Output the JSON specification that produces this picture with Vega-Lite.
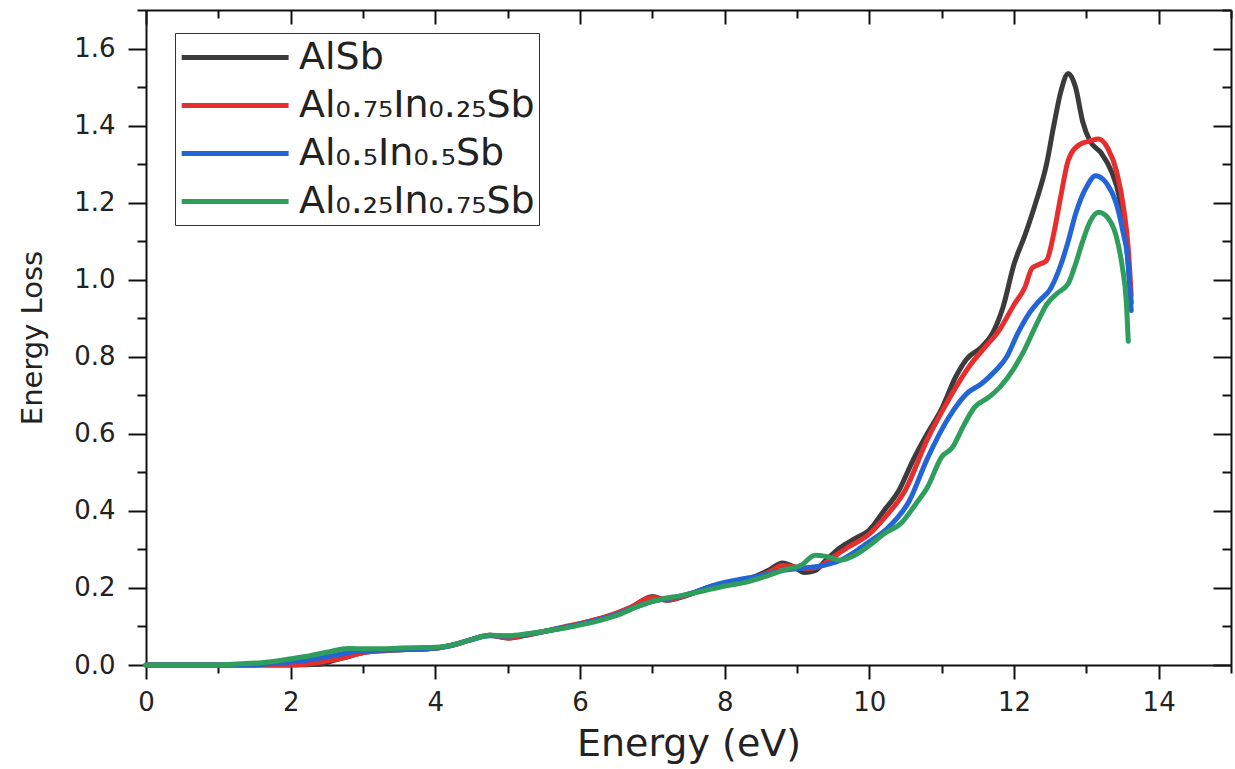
{
  "$schema": "https://vega.github.io/schema/vega-lite/v6.json",
  "autosize": "none",
  "width": 1085,
  "height": 655,
  "padding": {"left": 146, "top": 10, "right": 4, "bottom": 104},
  "background": "white",
  "config": {
    "view": {"stroke": null},
    "font": "DejaVu Sans",
    "axis": {
      "grid": false,
      "domainColor": "#111",
      "domainWidth": 2,
      "tickColor": "#111",
      "tickWidth": 2,
      "labelFont": "DejaVu Sans",
      "labelFontSize": 26,
      "labelColor": "#222",
      "titleFont": "DejaVu Sans",
      "titleFontWeight": "normal",
      "titleColor": "#222"
    }
  },
  "data": {"values": [
    {"s":"AlSb","x":0,"y":0},{"s":"AlSb","x":1,"y":0},{"s":"AlSb","x":2,"y":0},{"s":"AlSb","x":2.4,"y":0.002},{"s":"AlSb","x":2.6,"y":0.012},{"s":"AlSb","x":2.8,"y":0.022},{"s":"AlSb","x":3.0,"y":0.032},{"s":"AlSb","x":3.3,"y":0.038},{"s":"AlSb","x":3.6,"y":0.04},{"s":"AlSb","x":3.9,"y":0.042},{"s":"AlSb","x":4.2,"y":0.05},{"s":"AlSb","x":4.5,"y":0.066},{"s":"AlSb","x":4.75,"y":0.077},{"s":"AlSb","x":5.0,"y":0.07},{"s":"AlSb","x":5.2,"y":0.075},{"s":"AlSb","x":5.5,"y":0.087},{"s":"AlSb","x":5.8,"y":0.098},{"s":"AlSb","x":6.1,"y":0.112},{"s":"AlSb","x":6.4,"y":0.126},{"s":"AlSb","x":6.7,"y":0.148},{"s":"AlSb","x":7.0,"y":0.178},{"s":"AlSb","x":7.2,"y":0.168},{"s":"AlSb","x":7.5,"y":0.182},{"s":"AlSb","x":7.8,"y":0.203},{"s":"AlSb","x":8.1,"y":0.21},{"s":"AlSb","x":8.4,"y":0.228},{"s":"AlSb","x":8.6,"y":0.245},{"s":"AlSb","x":8.8,"y":0.265},{"s":"AlSb","x":8.95,"y":0.255},{"s":"AlSb","x":9.1,"y":0.24},{"s":"AlSb","x":9.25,"y":0.245},{"s":"AlSb","x":9.4,"y":0.272},{"s":"AlSb","x":9.6,"y":0.305},{"s":"AlSb","x":9.8,"y":0.328},{"s":"AlSb","x":10.0,"y":0.35},{"s":"AlSb","x":10.2,"y":0.4},{"s":"AlSb","x":10.4,"y":0.45},{"s":"AlSb","x":10.6,"y":0.53},{"s":"AlSb","x":10.8,"y":0.6},{"s":"AlSb","x":11.0,"y":0.665},{"s":"AlSb","x":11.2,"y":0.75},{"s":"AlSb","x":11.35,"y":0.795},{"s":"AlSb","x":11.55,"y":0.825},{"s":"AlSb","x":11.7,"y":0.86},{"s":"AlSb","x":11.85,"y":0.93},{"s":"AlSb","x":12.0,"y":1.04},{"s":"AlSb","x":12.15,"y":1.115},{"s":"AlSb","x":12.3,"y":1.2},{"s":"AlSb","x":12.45,"y":1.3},{"s":"AlSb","x":12.55,"y":1.4},{"s":"AlSb","x":12.65,"y":1.49},{"s":"AlSb","x":12.75,"y":1.535},{"s":"AlSb","x":12.85,"y":1.5},{"s":"AlSb","x":12.95,"y":1.41},{"s":"AlSb","x":13.05,"y":1.36},{"s":"AlSb","x":13.2,"y":1.33},{"s":"AlSb","x":13.35,"y":1.28},{"s":"AlSb","x":13.45,"y":1.22},{"s":"AlSb","x":13.55,"y":1.1},{"s":"AlSb","x":13.62,"y":0.94},

    {"s":"Al₀.₇₅In₀.₂₅Sb","x":0,"y":0},{"s":"Al₀.₇₅In₀.₂₅Sb","x":1,"y":0},{"s":"Al₀.₇₅In₀.₂₅Sb","x":2,"y":0},{"s":"Al₀.₇₅In₀.₂₅Sb","x":2.2,"y":0.002},{"s":"Al₀.₇₅In₀.₂₅Sb","x":2.5,"y":0.01},{"s":"Al₀.₇₅In₀.₂₅Sb","x":2.8,"y":0.022},{"s":"Al₀.₇₅In₀.₂₅Sb","x":3.0,"y":0.032},{"s":"Al₀.₇₅In₀.₂₅Sb","x":3.3,"y":0.037},{"s":"Al₀.₇₅In₀.₂₅Sb","x":3.6,"y":0.04},{"s":"Al₀.₇₅In₀.₂₅Sb","x":3.9,"y":0.042},{"s":"Al₀.₇₅In₀.₂₅Sb","x":4.2,"y":0.05},{"s":"Al₀.₇₅In₀.₂₅Sb","x":4.5,"y":0.066},{"s":"Al₀.₇₅In₀.₂₅Sb","x":4.75,"y":0.077},{"s":"Al₀.₇₅In₀.₂₅Sb","x":5.0,"y":0.07},{"s":"Al₀.₇₅In₀.₂₅Sb","x":5.2,"y":0.076},{"s":"Al₀.₇₅In₀.₂₅Sb","x":5.5,"y":0.087},{"s":"Al₀.₇₅In₀.₂₅Sb","x":5.8,"y":0.1},{"s":"Al₀.₇₅In₀.₂₅Sb","x":6.1,"y":0.112},{"s":"Al₀.₇₅In₀.₂₅Sb","x":6.4,"y":0.128},{"s":"Al₀.₇₅In₀.₂₅Sb","x":6.7,"y":0.15},{"s":"Al₀.₇₅In₀.₂₅Sb","x":7.0,"y":0.176},{"s":"Al₀.₇₅In₀.₂₅Sb","x":7.2,"y":0.168},{"s":"Al₀.₇₅In₀.₂₅Sb","x":7.5,"y":0.183},{"s":"Al₀.₇₅In₀.₂₅Sb","x":7.8,"y":0.2},{"s":"Al₀.₇₅In₀.₂₅Sb","x":8.1,"y":0.21},{"s":"Al₀.₇₅In₀.₂₅Sb","x":8.4,"y":0.226},{"s":"Al₀.₇₅In₀.₂₅Sb","x":8.6,"y":0.24},{"s":"Al₀.₇₅In₀.₂₅Sb","x":8.8,"y":0.258},{"s":"Al₀.₇₅In₀.₂₅Sb","x":8.95,"y":0.255},{"s":"Al₀.₇₅In₀.₂₅Sb","x":9.1,"y":0.25},{"s":"Al₀.₇₅In₀.₂₅Sb","x":9.3,"y":0.255},{"s":"Al₀.₇₅In₀.₂₅Sb","x":9.5,"y":0.28},{"s":"Al₀.₇₅In₀.₂₅Sb","x":9.7,"y":0.305},{"s":"Al₀.₇₅In₀.₂₅Sb","x":10.0,"y":0.34},{"s":"Al₀.₇₅In₀.₂₅Sb","x":10.2,"y":0.38},{"s":"Al₀.₇₅In₀.₂₅Sb","x":10.5,"y":0.455},{"s":"Al₀.₇₅In₀.₂₅Sb","x":10.8,"y":0.585},{"s":"Al₀.₇₅In₀.₂₅Sb","x":11.1,"y":0.69},{"s":"Al₀.₇₅In₀.₂₅Sb","x":11.4,"y":0.78},{"s":"Al₀.₇₅In₀.₂₅Sb","x":11.6,"y":0.825},{"s":"Al₀.₇₅In₀.₂₅Sb","x":11.8,"y":0.87},{"s":"Al₀.₇₅In₀.₂₅Sb","x":12.0,"y":0.935},{"s":"Al₀.₇₅In₀.₂₅Sb","x":12.15,"y":0.98},{"s":"Al₀.₇₅In₀.₂₅Sb","x":12.25,"y":1.03},{"s":"Al₀.₇₅In₀.₂₅Sb","x":12.35,"y":1.04},{"s":"Al₀.₇₅In₀.₂₅Sb","x":12.45,"y":1.05},{"s":"Al₀.₇₅In₀.₂₅Sb","x":12.55,"y":1.12},{"s":"Al₀.₇₅In₀.₂₅Sb","x":12.65,"y":1.22},{"s":"Al₀.₇₅In₀.₂₅Sb","x":12.75,"y":1.31},{"s":"Al₀.₇₅In₀.₂₅Sb","x":12.9,"y":1.35},{"s":"Al₀.₇₅In₀.₂₅Sb","x":13.05,"y":1.36},{"s":"Al₀.₇₅In₀.₂₅Sb","x":13.17,"y":1.365},{"s":"Al₀.₇₅In₀.₂₅Sb","x":13.3,"y":1.34},{"s":"Al₀.₇₅In₀.₂₅Sb","x":13.42,"y":1.28},{"s":"Al₀.₇₅In₀.₂₅Sb","x":13.52,"y":1.18},{"s":"Al₀.₇₅In₀.₂₅Sb","x":13.58,"y":1.08},{"s":"Al₀.₇₅In₀.₂₅Sb","x":13.62,"y":0.96},

    {"s":"Al₀.₅In₀.₅Sb","x":0,"y":0},{"s":"Al₀.₅In₀.₅Sb","x":1.5,"y":0},{"s":"Al₀.₅In₀.₅Sb","x":1.8,"y":0.005},{"s":"Al₀.₅In₀.₅Sb","x":2.0,"y":0.008},{"s":"Al₀.₅In₀.₅Sb","x":2.3,"y":0.015},{"s":"Al₀.₅In₀.₅Sb","x":2.6,"y":0.025},{"s":"Al₀.₅In₀.₅Sb","x":2.9,"y":0.035},{"s":"Al₀.₅In₀.₅Sb","x":3.2,"y":0.038},{"s":"Al₀.₅In₀.₅Sb","x":3.6,"y":0.04},{"s":"Al₀.₅In₀.₅Sb","x":3.9,"y":0.042},{"s":"Al₀.₅In₀.₅Sb","x":4.2,"y":0.05},{"s":"Al₀.₅In₀.₅Sb","x":4.5,"y":0.066},{"s":"Al₀.₅In₀.₅Sb","x":4.75,"y":0.076},{"s":"Al₀.₅In₀.₅Sb","x":5.0,"y":0.075},{"s":"Al₀.₅In₀.₅Sb","x":5.2,"y":0.078},{"s":"Al₀.₅In₀.₅Sb","x":5.5,"y":0.087},{"s":"Al₀.₅In₀.₅Sb","x":5.8,"y":0.098},{"s":"Al₀.₅In₀.₅Sb","x":6.1,"y":0.11},{"s":"Al₀.₅In₀.₅Sb","x":6.4,"y":0.125},{"s":"Al₀.₅In₀.₅Sb","x":6.7,"y":0.145},{"s":"Al₀.₅In₀.₅Sb","x":7.0,"y":0.165},{"s":"Al₀.₅In₀.₅Sb","x":7.3,"y":0.175},{"s":"Al₀.₅In₀.₅Sb","x":7.6,"y":0.19},{"s":"Al₀.₅In₀.₅Sb","x":7.9,"y":0.21},{"s":"Al₀.₅In₀.₅Sb","x":8.2,"y":0.222},{"s":"Al₀.₅In₀.₅Sb","x":8.5,"y":0.232},{"s":"Al₀.₅In₀.₅Sb","x":8.8,"y":0.245},{"s":"Al₀.₅In₀.₅Sb","x":9.1,"y":0.252},{"s":"Al₀.₅In₀.₅Sb","x":9.4,"y":0.26},{"s":"Al₀.₅In₀.₅Sb","x":9.6,"y":0.272},{"s":"Al₀.₅In₀.₅Sb","x":9.85,"y":0.3},{"s":"Al₀.₅In₀.₅Sb","x":10.0,"y":0.32},{"s":"Al₀.₅In₀.₅Sb","x":10.25,"y":0.355},{"s":"Al₀.₅In₀.₅Sb","x":10.55,"y":0.425},{"s":"Al₀.₅In₀.₅Sb","x":10.8,"y":0.535},{"s":"Al₀.₅In₀.₅Sb","x":11.1,"y":0.643},{"s":"Al₀.₅In₀.₅Sb","x":11.35,"y":0.705},{"s":"Al₀.₅In₀.₅Sb","x":11.55,"y":0.73},{"s":"Al₀.₅In₀.₅Sb","x":11.75,"y":0.765},{"s":"Al₀.₅In₀.₅Sb","x":11.9,"y":0.8},{"s":"Al₀.₅In₀.₅Sb","x":12.05,"y":0.86},{"s":"Al₀.₅In₀.₅Sb","x":12.2,"y":0.91},{"s":"Al₀.₅In₀.₅Sb","x":12.35,"y":0.945},{"s":"Al₀.₅In₀.₅Sb","x":12.5,"y":0.975},{"s":"Al₀.₅In₀.₅Sb","x":12.65,"y":1.04},{"s":"Al₀.₅In₀.₅Sb","x":12.75,"y":1.1},{"s":"Al₀.₅In₀.₅Sb","x":12.85,"y":1.17},{"s":"Al₀.₅In₀.₅Sb","x":13.0,"y":1.24},{"s":"Al₀.₅In₀.₅Sb","x":13.13,"y":1.27},{"s":"Al₀.₅In₀.₅Sb","x":13.28,"y":1.25},{"s":"Al₀.₅In₀.₅Sb","x":13.41,"y":1.2},{"s":"Al₀.₅In₀.₅Sb","x":13.5,"y":1.13},{"s":"Al₀.₅In₀.₅Sb","x":13.58,"y":1.04},{"s":"Al₀.₅In₀.₅Sb","x":13.62,"y":0.92},

    {"s":"Al₀.₂₅In₀.₇₅Sb","x":0,"y":0},{"s":"Al₀.₂₅In₀.₇₅Sb","x":1.0,"y":0},{"s":"Al₀.₂₅In₀.₇₅Sb","x":1.2,"y":0.002},{"s":"Al₀.₂₅In₀.₇₅Sb","x":1.6,"y":0.006},{"s":"Al₀.₂₅In₀.₇₅Sb","x":1.9,"y":0.013},{"s":"Al₀.₂₅In₀.₇₅Sb","x":2.2,"y":0.022},{"s":"Al₀.₂₅In₀.₇₅Sb","x":2.5,"y":0.033},{"s":"Al₀.₂₅In₀.₇₅Sb","x":2.8,"y":0.043},{"s":"Al₀.₂₅In₀.₇₅Sb","x":3.1,"y":0.042},{"s":"Al₀.₂₅In₀.₇₅Sb","x":3.4,"y":0.043},{"s":"Al₀.₂₅In₀.₇₅Sb","x":3.7,"y":0.045},{"s":"Al₀.₂₅In₀.₇₅Sb","x":4.0,"y":0.046},{"s":"Al₀.₂₅In₀.₇₅Sb","x":4.3,"y":0.055},{"s":"Al₀.₂₅In₀.₇₅Sb","x":4.5,"y":0.066},{"s":"Al₀.₂₅In₀.₇₅Sb","x":4.75,"y":0.077},{"s":"Al₀.₂₅In₀.₇₅Sb","x":5.0,"y":0.076},{"s":"Al₀.₂₅In₀.₇₅Sb","x":5.3,"y":0.082},{"s":"Al₀.₂₅In₀.₇₅Sb","x":5.6,"y":0.09},{"s":"Al₀.₂₅In₀.₇₅Sb","x":5.9,"y":0.1},{"s":"Al₀.₂₅In₀.₇₅Sb","x":6.2,"y":0.112},{"s":"Al₀.₂₅In₀.₇₅Sb","x":6.5,"y":0.128},{"s":"Al₀.₂₅In₀.₇₅Sb","x":6.8,"y":0.152},{"s":"Al₀.₂₅In₀.₇₅Sb","x":7.1,"y":0.17},{"s":"Al₀.₂₅In₀.₇₅Sb","x":7.4,"y":0.18},{"s":"Al₀.₂₅In₀.₇₅Sb","x":7.7,"y":0.192},{"s":"Al₀.₂₅In₀.₇₅Sb","x":8.0,"y":0.205},{"s":"Al₀.₂₅In₀.₇₅Sb","x":8.3,"y":0.215},{"s":"Al₀.₂₅In₀.₇₅Sb","x":8.6,"y":0.232},{"s":"Al₀.₂₅In₀.₇₅Sb","x":8.85,"y":0.248},{"s":"Al₀.₂₅In₀.₇₅Sb","x":9.05,"y":0.258},{"s":"Al₀.₂₅In₀.₇₅Sb","x":9.25,"y":0.285},{"s":"Al₀.₂₅In₀.₇₅Sb","x":9.4,"y":0.282},{"s":"Al₀.₂₅In₀.₇₅Sb","x":9.6,"y":0.272},{"s":"Al₀.₂₅In₀.₇₅Sb","x":9.8,"y":0.285},{"s":"Al₀.₂₅In₀.₇₅Sb","x":10.0,"y":0.31},{"s":"Al₀.₂₅In₀.₇₅Sb","x":10.2,"y":0.34},{"s":"Al₀.₂₅In₀.₇₅Sb","x":10.45,"y":0.37},{"s":"Al₀.₂₅In₀.₇₅Sb","x":10.65,"y":0.42},{"s":"Al₀.₂₅In₀.₇₅Sb","x":10.8,"y":0.46},{"s":"Al₀.₂₅In₀.₇₅Sb","x":11.0,"y":0.54},{"s":"Al₀.₂₅In₀.₇₅Sb","x":11.15,"y":0.565},{"s":"Al₀.₂₅In₀.₇₅Sb","x":11.3,"y":0.62},{"s":"Al₀.₂₅In₀.₇₅Sb","x":11.45,"y":0.668},{"s":"Al₀.₂₅In₀.₇₅Sb","x":11.65,"y":0.695},{"s":"Al₀.₂₅In₀.₇₅Sb","x":11.8,"y":0.72},{"s":"Al₀.₂₅In₀.₇₅Sb","x":12.0,"y":0.77},{"s":"Al₀.₂₅In₀.₇₅Sb","x":12.15,"y":0.82},{"s":"Al₀.₂₅In₀.₇₅Sb","x":12.3,"y":0.88},{"s":"Al₀.₂₅In₀.₇₅Sb","x":12.45,"y":0.935},{"s":"Al₀.₂₅In₀.₇₅Sb","x":12.6,"y":0.965},{"s":"Al₀.₂₅In₀.₇₅Sb","x":12.75,"y":0.99},{"s":"Al₀.₂₅In₀.₇₅Sb","x":12.85,"y":1.04},{"s":"Al₀.₂₅In₀.₇₅Sb","x":12.95,"y":1.1},{"s":"Al₀.₂₅In₀.₇₅Sb","x":13.05,"y":1.15},{"s":"Al₀.₂₅In₀.₇₅Sb","x":13.17,"y":1.175},{"s":"Al₀.₂₅In₀.₇₅Sb","x":13.3,"y":1.16},{"s":"Al₀.₂₅In₀.₇₅Sb","x":13.41,"y":1.115},{"s":"Al₀.₂₅In₀.₇₅Sb","x":13.5,"y":1.03},{"s":"Al₀.₂₅In₀.₇₅Sb","x":13.55,"y":0.95},{"s":"Al₀.₂₅In₀.₇₅Sb","x":13.58,"y":0.84}
  ]},
  "layer": [
    {
      "mark": {"type": "line", "strokeWidth": 5, "interpolate": "monotone", "strokeCap": "round"},
      "encoding": {
        "x": {"field": "x", "type": "quantitative",
          "scale": {"domain": [0, 15], "nice": false, "zero": false},
          "axis": {"orient": "bottom", "title": "Energy (eV)", "titleFontSize": 38, "titlePadding": 10,
            "values": [0,1,2,3,4,5,6,7,8,9,10,11,12,13,14,15],
            "labelExpr": "datum.value % 2 == 0 && datum.value < 15 ? datum.label : ''",
            "tickSize": {"condition": {"test": "datum.value % 2 != 0", "value": 8}, "value": 14},
            "labelPadding": 10, "labelFlush": false}},
        "y": {"field": "y", "type": "quantitative",
          "scale": {"domain": [0, 1.7], "nice": false},
          "axis": {"orient": "left", "title": "Energy Loss", "titleFontSize": 29, "titlePadding": 26,
            "values": [0,0.1,0.2,0.3,0.4,0.5,0.6,0.7,0.8,0.9,1.0,1.1,1.2,1.3,1.4,1.5,1.6,1.7],
            "labelExpr": "round(datum.value*10) % 2 == 0 && datum.value < 1.65 ? format(datum.value, '.1f') : ''",
            "tickSize": {"condition": {"test": "round(datum.value*10) % 2 != 0", "value": 9}, "value": 18},
            "labelPadding": 13, "labelFlush": false}},
        "color": {"field": "s", "type": "nominal",
          "scale": {"domain": ["AlSb", "Al₀.₇₅In₀.₂₅Sb", "Al₀.₅In₀.₅Sb", "Al₀.₂₅In₀.₇₅Sb"],
                    "range": ["#3b3b3b", "#e62e2e", "#2364d6", "#2f9e5c"]},
          "legend": {"title": null, "orient": "none", "legendX": 29, "legendY": 23,
            "symbolType": "M-1,0H5", "symbolSize": 1270, "symbolStrokeWidth": 5,
            "labelFontSize": 38, "labelFont": "DejaVu Sans", "labelColor": "#222", "labelOffset": 79,
            "labelLimit": 500, "rowPadding": 8, "padding": 4,
            "strokeColor": "#333", "fillColor": "white"}}
      }
    },
    {
      "mark": {"type": "point", "opacity": 0},
      "encoding": {
        "x": {"field": "x", "type": "quantitative",
          "axis": {"orient": "top", "title": null, "labels": false,
            "values": [0,1,2,3,4,5,6,7,8,9,10,11,12,13,14,15],
            "tickSize": {"condition": {"test": "datum.value % 2 != 0", "value": -8}, "value": -14}}},
        "y": {"field": "y", "type": "quantitative",
          "axis": {"orient": "right", "title": null, "labels": false,
            "values": [0,0.1,0.2,0.3,0.4,0.5,0.6,0.7,0.8,0.9,1.0,1.1,1.2,1.3,1.4,1.5,1.6,1.7],
            "tickSize": {"condition": {"test": "round(datum.value*10) % 2 != 0", "value": -9}, "value": -18}}}
      }
    }
  ],
  "resolve": {"axis": {"x": "independent", "y": "independent"}}
}
